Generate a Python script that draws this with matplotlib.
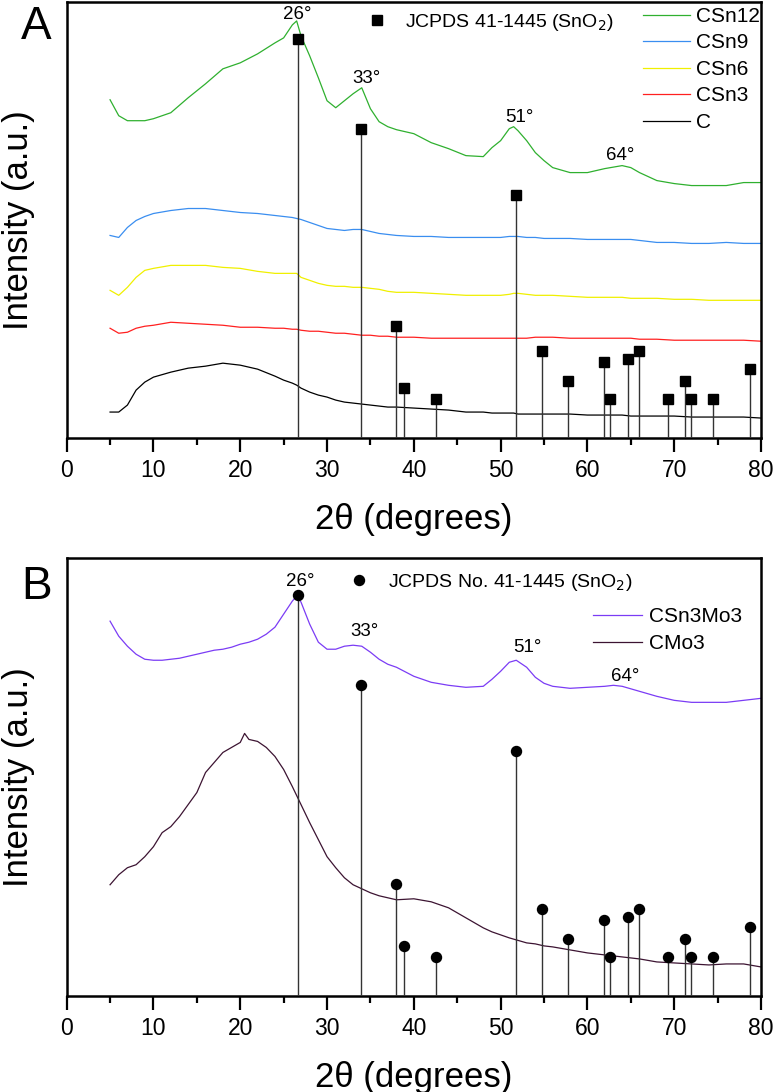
import matplotlib
matplotlib.use("Agg")
import matplotlib.pyplot as plt
from matplotlib.lines import Line2D
from matplotlib.ticker import MultipleLocator

plt.rcParams['font.family'] = ['Liberation Sans', 'DejaVu Sans']

# ---- data (intensities, arbitrary units) ----
x_a = [5, 6, 7, 8, 9, 10, 12, 14, 16, 18, 20, 22, 24, 25, 26, 26.5, 27, 28, 29, 30,
       31, 32, 33, 34, 35, 36, 37, 38, 40, 42, 44, 46, 48, 49, 50, 51, 51.5, 52, 53, 54,
       55, 56, 58, 60, 62, 64, 65, 66, 68, 70, 72, 74, 76, 78, 80]
csn12 = [339, 323, 318, 318, 318, 320, 326, 341, 355, 370, 376, 385, 396, 401, 414, 418, 403, 383, 361, 338,
         331, 338, 345, 351, 330, 317, 312, 309, 305, 296, 290, 283, 282, 291, 298, 310, 312, 308, 298, 286,
         278, 271, 266, 266, 270, 273, 271, 266, 258, 255, 253, 253, 253, 256, 256]
csn9 = [203, 201, 211, 218, 222, 225, 228, 230, 230, 228, 226, 225, 223, 222, 221, 220, 219, 216, 213, 210,
        209, 208, 209, 209, 207, 205, 204, 203, 202, 202, 201, 201, 201, 201, 201, 202, 202, 202, 201, 201,
        200, 200, 200, 199, 199, 199, 199, 198, 196, 196, 195, 195, 196, 195, 195]
csn6 = [148, 143, 151, 161, 168, 170, 173, 173, 173, 171, 170, 167, 165, 165, 165, 165, 161, 158, 155, 153,
        152, 152, 151, 151, 150, 149, 147, 146, 146, 145, 144, 143, 143, 143, 143, 144, 145, 145, 144, 143,
        143, 143, 142, 141, 141, 141, 140, 140, 140, 139, 139, 138, 138, 138, 138]
csn3 = [110, 105, 106, 110, 112, 113, 116, 115, 114, 113, 111, 111, 110, 110, 109, 109, 108, 107, 107, 106,
        105, 105, 104, 103, 103, 102, 102, 101, 101, 100, 100, 100, 100, 100, 100, 100, 100, 100, 100, 101,
        101, 101, 100, 100, 100, 100, 100, 99, 99, 98, 98, 98, 98, 98, 97]
c_only = [26, 26, 33, 48, 56, 61, 66, 70, 72, 75, 73, 69, 62, 58, 55, 53, 50, 46, 43, 41,
          38, 36, 35, 34, 33, 32, 31, 31, 30, 29, 28, 26, 26, 25, 25, 25, 25, 24, 24, 24,
          24, 24, 24, 23, 23, 23, 22, 22, 22, 22, 21, 21, 21, 21, 20]

x_b = [5, 6, 7, 8, 9, 10, 11, 12, 13, 14, 15, 16, 17, 18, 19, 20, 20.5, 21, 22, 23,
       24, 25, 26, 26.5, 27, 28, 29, 30, 31, 32, 33, 34, 35, 36, 37, 38, 40, 42, 44, 46,
       48, 49, 50, 51, 51.8, 53, 54, 55, 56, 58, 60, 62, 63, 64, 66, 68, 70, 72, 74, 76, 78, 80]
csn3mo3 = [374, 359, 349, 341, 336, 335, 335, 336, 337, 339, 341, 343, 345, 346, 348, 351, 352, 353, 356, 361,
           368, 381, 394, 399, 393, 371, 353, 346, 346, 349, 350, 349, 343, 336, 331, 328, 319, 313, 310, 308,
           309, 316, 324, 333, 335, 328, 318, 312, 309, 307, 308, 309, 310, 309, 304, 299, 295, 293, 293, 293, 295, 297]
cmo3 = [111, 121, 128, 131, 139, 149, 163, 169, 179, 191, 203, 223, 233, 243, 248, 253, 262, 256, 254, 248,
        239, 226, 209, 200, 191, 173, 156, 139, 128, 118, 111, 107, 103, 100, 98, 96, 97, 94, 88, 78,
        68, 64, 61, 58, 56, 53, 52, 50, 49, 46, 43, 41, 40, 39, 37, 34, 33, 32, 31, 32, 32, 29]

# JCPDS 41-1445 (SnO2) reference lines
ref_pos = [26.6, 33.9, 37.9, 38.9, 42.6, 51.8, 54.8, 57.8, 61.9, 62.6, 64.7, 65.9, 69.3, 71.3, 71.9, 74.5, 78.7]
ref_int = [400, 310, 112, 50, 39, 244, 87, 57, 76, 39, 79, 87, 39, 57, 39, 39, 69]

peak_labels = ["26°", "33°", "51°", "64°"]
peak_xy_a = [(26.6, 424), (34.5, 360), (52.2, 321), (63.8, 283)]
peak_xy_b = [(26.9, 414), (34.3, 364), (53.1, 348), (64.4, 319)]

series_a = [("CSn12", csn12, "#2fb02f"), ("CSn9", csn9, "#3a8ef0"), ("CSn6", csn6, "#f0f000"),
            ("CSn3", csn3, "#ff2020"), ("C", c_only, "#000000")]
series_b = [("CSn3Mo3", csn3mo3, "#7b3cf5"), ("CMo3", cmo3, "#3c1432")]


fig = plt.figure(figsize=(7.77, 10.92), dpi=100)
ax_a = fig.add_axes([0.0858, 0.5989, 0.8936, 0.3993])
ax_b = fig.add_axes([0.0858, 0.0879, 0.8936, 0.4011])


def style_axis(ax):
    ax.set_xlim(0, 80)
    ax.set_ylim(0, 437)
    ax.xaxis.set_major_locator(MultipleLocator(10))
    ax.xaxis.set_minor_locator(MultipleLocator(5))
    ax.tick_params(axis='x', which='major', direction='out', length=10, width=1.6,
                   labelsize=16.5, pad=5)
    ax.tick_params(axis='x', which='minor', direction='out', length=5, width=1.6)
    ax.tick_params(axis='y', left=False, labelleft=False)
    for sp in ax.spines.values():
        sp.set_linewidth(1.8)
    ax.set_xlabel("2θ (degrees)", fontsize=25)
    ax.set_ylabel("Intensity (a.u.)", fontsize=25)
    ax.xaxis.set_label_coords(0.5, -0.148)
    ax.yaxis.set_label_coords(-0.045, 0.5)


def draw_refs(ax, marker, ms):
    for p, h in zip(ref_pos, ref_int):
        ax.plot([p, p], [0, h], color="#333333", lw=1.0, zorder=3)
    ax.plot(ref_pos, ref_int, linestyle='none', marker=marker, color='k', ms=ms, zorder=4)


# Panel A
for name, ys, col in series_a:
    ax_a.plot(x_a, ys, color=col, lw=0.9, label=name)
draw_refs(ax_a, 's', 6.7)
for lab, (px, py) in zip(peak_labels, peak_xy_a):
    ax_a.text(px, py, lab, fontsize=13.5, ha='center', va='center')
style_axis(ax_a)

leg1 = ax_a.legend(loc='upper left', bbox_to_anchor=(0.830, 0.9886), frameon=False, fontsize=15,
                   handlelength=2.26, handletextpad=0.29, labelspacing=0.36,
                   borderpad=0, borderaxespad=0)
ax_a.add_artist(leg1)
ref_handle = Line2D([], [], linestyle='none', marker='s', color='k', ms=6.7)
ax_a.legend([ref_handle], ["JCPDS 41-1445 (SnO$_2$)"], loc='center left',
            bbox_to_anchor=(0.4325, 0.9526), frameon=False, fontsize=14,
            handlelength=1.0, handletextpad=0.95, borderpad=0, borderaxespad=0)

# Panel B
for name, ys, col in series_b:
    ax_b.plot(x_b, ys, color=col, lw=0.9, label=name)
draw_refs(ax_b, 'o', 7.2)
for lab, (px, py) in zip(peak_labels, peak_xy_b):
    ax_b.text(px, py, lab, fontsize=13.5, ha='center', va='center')
style_axis(ax_b)

leg2 = ax_b.legend(loc='upper left', bbox_to_anchor=(0.758, 0.888), frameon=False, fontsize=15,
                   handlelength=2.36, handletextpad=0.34, labelspacing=0.40,
                   borderpad=0, borderaxespad=0)
ax_b.add_artist(leg2)
ref_handle_b = Line2D([], [], linestyle='none', marker='o', color='k', ms=7.2)
ax_b.legend([ref_handle_b], ["JCPDS No. 41-1445 (SnO$_2$)"], loc='center left',
            bbox_to_anchor=(0.4066, 0.9436), frameon=False, fontsize=14,
            handlelength=1.0, handletextpad=1.0, borderpad=0, borderaxespad=0)

fig.text(36 / 777, 1 - 27 / 1092, "A", fontsize=33, ha='center', va='center')
fig.text(37 / 777, 1 - 587 / 1092, "B", fontsize=33, ha='center', va='center')

fig.savefig("out.png", dpi=100)
